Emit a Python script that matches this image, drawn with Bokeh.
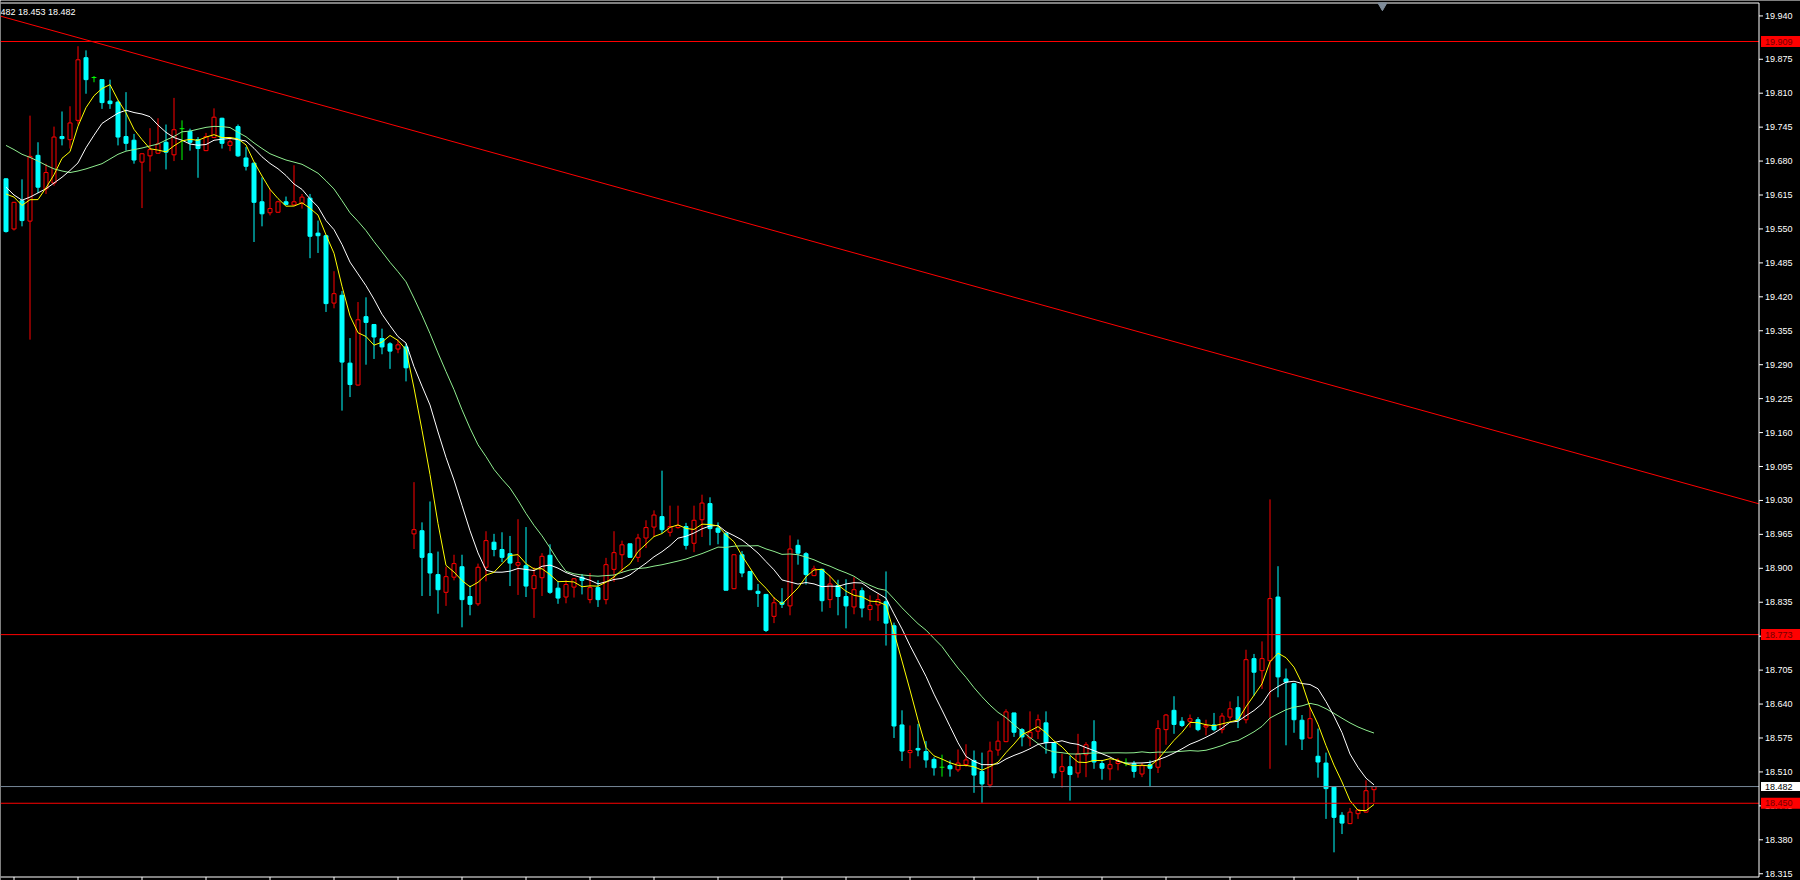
from bokeh.plotting import figure
from bokeh.models import Range1d, ColumnDataSource
from bokeh.core.properties import value
from bokeh.embed import file_html
from bokeh.resources import INLINE

# ---------------- data ----------------
open_ = [19.646, 19.550, 19.604, 19.565, 19.691, 19.627, 19.638, 19.727, 19.721, 19.758,
         19.878, 19.840, 19.836, 19.795, 19.793, 19.727, 19.720, 19.678, 19.690, 19.695,
         19.716, 19.692, 19.742, 19.737, 19.721, 19.700, 19.725, 19.762, 19.710, 19.746,
         19.686, 19.676, 19.602, 19.581, 19.582, 19.602, 19.596, 19.599, 19.609, 19.542,
         19.537, 19.408, 19.423, 19.293, 19.251, 19.382, 19.367, 19.340, 19.330, 19.320,
         19.324, 18.966, 18.972, 18.928, 18.888, 18.854, 18.883, 18.903, 18.846, 18.832,
         18.902, 18.950, 18.936, 18.928, 18.906, 18.905, 18.861, 18.882, 18.925, 18.862,
         18.845, 18.864, 18.883, 18.840, 18.863, 18.840, 18.898, 18.926, 18.947, 18.921,
         18.958, 18.979, 18.999, 18.969, 18.978, 18.980, 18.948, 18.993, 19.024, 18.977,
         18.967, 18.861, 18.926, 18.894, 18.856, 18.850, 18.808, 18.835, 18.828, 18.944,
         18.928, 18.886, 18.898, 18.840, 18.867, 18.846, 18.826, 18.857, 18.821, 18.830,
         18.836, 18.790, 18.600, 18.547, 18.555, 18.549, 18.534, 18.519, 18.522, 18.514,
         18.524, 18.532, 18.511, 18.485, 18.552, 18.568, 18.623, 18.591, 18.575, 18.588,
         18.604, 18.566, 18.511, 18.520, 18.508, 18.543, 18.568, 18.526, 18.516, 18.526,
         18.527, 18.526, 18.506, 18.524, 18.519, 18.591, 18.628, 18.607, 18.607, 18.610,
         18.596, 18.600, 18.591, 18.615, 18.633, 18.610, 18.727, 18.704, 18.723, 18.845,
         18.688, 18.679, 18.609, 18.575, 18.540, 18.527, 18.481, 18.427, 18.411, 18.430,
         18.433, 18.476]
high = [19.647, 19.602, 19.645, 19.767, 19.716, 19.675, 19.746, 19.775, 19.785, 19.900,
        19.892, 19.843, 19.836, 19.836, 19.796, 19.812, 19.732, 19.695, 19.743, 19.762,
        19.750, 19.801, 19.758, 19.742, 19.726, 19.734, 19.781, 19.763, 19.723, 19.750,
        19.707, 19.677, 19.649, 19.627, 19.604, 19.612, 19.672, 19.617, 19.617, 19.566,
        19.539, 19.469, 19.431, 19.341, 19.410, 19.419, 19.368, 19.359, 19.333, 19.338,
        19.330, 19.065, 18.988, 19.028, 18.932, 18.903, 18.926, 18.926, 18.867, 18.909,
        18.971, 18.966, 18.969, 18.962, 18.994, 18.979, 18.902, 18.929, 18.946, 18.875,
        18.877, 18.881, 18.889, 18.891, 18.877, 18.920, 18.971, 18.953, 18.947, 18.966,
        18.992, 19.011, 19.087, 19.020, 19.020, 18.987, 19.020, 19.041, 19.036, 18.988,
        18.969, 18.926, 18.933, 18.894, 18.870, 18.851, 18.845, 18.862, 18.963, 18.955,
        18.931, 18.905, 18.899, 18.886, 18.878, 18.879, 18.883, 18.863, 18.848, 18.851,
        18.894, 18.796, 18.628, 18.599, 18.602, 18.569, 18.538, 18.543, 18.532, 18.553,
        18.563, 18.551, 18.547, 18.568, 18.607, 18.630, 18.623, 18.594, 18.626, 18.620,
        18.626, 18.567, 18.545, 18.541, 18.583, 18.567, 18.609, 18.533, 18.533, 18.536,
        18.536, 18.531, 18.527, 18.532, 18.609, 18.621, 18.655, 18.615, 18.620, 18.615,
        18.610, 18.623, 18.623, 18.645, 18.655, 18.744, 18.736, 18.760, 19.032, 18.904,
        18.708, 18.680, 18.619, 18.634, 18.593, 18.547, 18.481, 18.433, 18.441, 18.439,
        18.494, 18.482]
low = [19.543, 19.547, 19.555, 19.338, 19.619, 19.617, 19.633, 19.710, 19.704, 19.750,
       19.809, 19.831, 19.780, 19.780, 19.710, 19.700, 19.675, 19.590, 19.660, 19.694,
       19.664, 19.680, 19.682, 19.700, 19.648, 19.699, 19.724, 19.704, 19.699, 19.688,
       19.662, 19.525, 19.555, 19.576, 19.581, 19.596, 19.595, 19.589, 19.494, 19.504,
       19.391, 19.398, 19.202, 19.228, 19.250, 19.290, 19.301, 19.310, 19.282, 19.312,
       19.258, 18.937, 18.847, 18.847, 18.813, 18.828, 18.877, 18.787, 18.810, 18.828,
       18.875, 18.923, 18.912, 18.866, 18.849, 18.845, 18.805, 18.847, 18.851, 18.832,
       18.833, 18.844, 18.850, 18.833, 18.826, 18.831, 18.874, 18.891, 18.920, 18.912,
       18.939, 18.960, 18.967, 18.961, 18.976, 18.936, 18.931, 18.960, 18.944, 18.946,
       18.858, 18.860, 18.883, 18.859, 18.826, 18.778, 18.795, 18.824, 18.810, 18.907,
       18.869, 18.885, 18.817, 18.824, 18.810, 18.785, 18.812, 18.806, 18.800, 18.799,
       18.752, 18.575, 18.531, 18.517, 18.540, 18.518, 18.503, 18.501, 18.501, 18.510,
       18.520, 18.470, 18.451, 18.480, 18.541, 18.567, 18.577, 18.559, 18.559, 18.573,
       18.545, 18.498, 18.480, 18.455, 18.499, 18.500, 18.516, 18.495, 18.494, 18.513,
       18.521, 18.499, 18.500, 18.481, 18.508, 18.562, 18.583, 18.596, 18.595, 18.588,
       18.580, 18.588, 18.584, 18.609, 18.594, 18.603, 18.656, 18.669, 18.516, 18.653,
       18.561, 18.585, 18.552, 18.574, 18.499, 18.420, 18.356, 18.391, 18.410, 18.420,
       18.432, 18.452]
close = [19.545, 19.601, 19.566, 19.689, 19.630, 19.658, 19.726, 19.723, 19.753, 19.874,
         19.836, 19.840, 19.792, 19.790, 19.726, 19.714, 19.682, 19.694, 19.702, 19.713,
         19.697, 19.740, 19.742, 19.716, 19.704, 19.727, 19.764, 19.714, 19.717, 19.690,
         19.670, 19.601, 19.579, 19.589, 19.602, 19.597, 19.602, 19.611, 19.536, 19.537,
         19.407, 19.426, 19.295, 19.252, 19.376, 19.371, 19.343, 19.324, 19.316, 19.328,
         19.284, 18.974, 18.921, 18.891, 18.859, 18.884, 18.909, 18.840, 18.831, 18.902,
         18.953, 18.936, 18.921, 18.910, 18.911, 18.866, 18.886, 18.923, 18.854, 18.843,
         18.869, 18.880, 18.877, 18.863, 18.840, 18.907, 18.930, 18.945, 18.921, 18.958,
         18.978, 19.002, 18.974, 18.980, 18.982, 18.944, 18.992, 19.025, 18.976, 18.969,
         18.858, 18.926, 18.891, 18.859, 18.852, 18.781, 18.834, 18.831, 18.937, 18.929,
         18.888, 18.899, 18.838, 18.870, 18.846, 18.828, 18.859, 18.824, 18.829, 18.840,
         18.795, 18.598, 18.550, 18.551, 18.552, 18.533, 18.518, 18.519, 18.516, 18.527,
         18.533, 18.504, 18.487, 18.550, 18.569, 18.625, 18.586, 18.577, 18.586, 18.610,
         18.566, 18.508, 18.520, 18.505, 18.545, 18.562, 18.529, 18.517, 18.524, 18.530,
         18.527, 18.511, 18.522, 18.517, 18.593, 18.619, 18.601, 18.599, 18.612, 18.591,
         18.599, 18.591, 18.617, 18.631, 18.610, 18.725, 18.701, 18.727, 18.842, 18.692,
         18.682, 18.610, 18.573, 18.612, 18.529, 18.478, 18.423, 18.412, 18.433, 18.437,
         18.474, 18.482]

# moving-average values at the left edge (history before the first visible bar)
ma5_lead = [19.617, 19.611, 19.595, 19.606]
ma10_lead = [19.630, 19.615, 19.605, 19.611, 19.619, 19.627, 19.638, 19.649, 19.662]
ma20_lead = [19.710, 19.702, 19.693, 19.687, 19.680, 19.672, 19.665, 19.661, 19.658, 19.661,
             19.665, 19.670, 19.675, 19.684, 19.693, 19.699, 19.702, 19.705, 19.709]

# price-scale ticks (the top label sits a little higher in the terminal)
y_tick_labels = ["18.315", "18.380", "18.445", "18.510", "18.575", "18.640", "18.705", "18.770",
                 "18.835", "18.900", "18.965", "19.030", "19.095", "19.160", "19.225", "19.290",
                 "19.355", "19.420", "19.485", "19.550", "19.615", "19.680", "19.745", "19.810",
                 "19.875", "19.940"]
y_tick_pos = [18.315, 18.380, 18.445, 18.510, 18.575, 18.640, 18.705, 18.770,
              18.835, 18.900, 18.965, 19.030, 19.095, 19.160, 19.225, 19.290,
              19.355, 19.420, 19.485, 19.550, 19.615, 19.680, 19.745, 19.810,
              19.875, 19.958]

level_lines = [19.909, 18.773, 18.450]
bid_price = 18.482
trend_x = [-0.66, 219.1]
trend_y = [19.9575, 19.0236]
info_text = "482 18.453 18.482"
shift_marker_x = 172.05
time_tick_every = 8
time_tick_first = 1

# ---------------- derived series ----------------
n = len(close)
xs = list(range(n))


def sma(vals, period, lead):
    out = []
    for i in range(len(vals)):
        if i < period - 1:
            out.append(lead[i])
        else:
            out.append(sum(vals[i - period + 1:i + 1]) / period)
    return out


ma5 = sma(close, 5, ma5_lead)
ma10 = sma(close, 10, ma10_lead)
ma20 = sma(close, 20, ma20_lead)

CYAN = "#00ffff"
RED = "#ff0000"
GREEN = "#00ff00"
FONT = value("Liberation Sans")

wick_col = [RED if c > o else (CYAN if c < o else GREEN) for o, c in zip(open_, close)]
src_wick = ColumnDataSource(dict(x=xs, lo=low, hi=high, col=wick_col))
bear = [i for i in xs if close[i] < open_[i]]
bull = [i for i in xs if close[i] > open_[i]]
doji = [i for i in xs if close[i] == open_[i]]
src_bear = ColumnDataSource(dict(x=bear, top=[open_[i] for i in bear], bot=[close[i] for i in bear]))
src_bull = ColumnDataSource(dict(x=bull, top=[close[i] for i in bull], bot=[open_[i] for i in bull]))
src_doji = ColumnDataSource(dict(x0=[i - 0.3 for i in doji], x1=[i + 0.3 for i in doji],
                                 y=[open_[i] for i in doji]))

# ---------------- layout / scales ----------------
W, H = 1800, 880
BAR_PX = 8.0          # horizontal pixels per bar
PRICE_PX = 522.1      # vertical pixels per price unit
X0 = -5.5 / BAR_PX    # bar 0 centred 5.5px from the left edge (crisp 1px wicks)
Y_TOP = 19.810 + 92.7 / PRICE_PX


def px2x(px):
    return X0 + px / BAR_PX


def px2y(py):
    return Y_TOP - py / PRICE_PX


AXIS_PX = 1758.5      # price scale line
TOP_PX = 2.5
BOTTOM_PX = 876.5

p = figure(width=W, height=H,
           x_range=Range1d(X0, px2x(W)), y_range=Range1d(px2y(H), Y_TOP),
           output_backend="svg", toolbar_location=None,
           background_fill_color="#000000", border_fill_color="#000000",
           min_border=0, outline_line_color=None,
           x_axis_location=None, y_axis_location=None)
p.grid.grid_line_color = None

xa = px2x(AXIS_PX)
yt = px2y(TOP_PX)
yb = px2y(BOTTOM_PX)

# trend line
p.line(trend_x, trend_y, line_color=RED, line_width=1)

# candles
p.segment(x0="x", y0="lo", x1="x", y1="hi", line_color="col", line_width=1, source=src_wick)
p.vbar(x="x", width=0.5, top="top", bottom="bot", fill_color=CYAN, line_color=CYAN,
       line_width=1, source=src_bear)
p.vbar(x="x", width=0.5, top="top", bottom="bot", fill_color="#000000", line_color=RED,
       line_width=1, source=src_bull)
p.segment(x0="x0", y0="y", x1="x1", y1="y", line_color=GREEN, line_width=1, source=src_doji)

# moving averages
p.line(xs, ma20, line_color="#90ee90", line_width=1)
p.line(xs, ma10, line_color="#ffffff", line_width=1)
p.line(xs, ma5, line_color="#ffff00", line_width=1)

# horizontal levels (stop at the price scale)
p.segment(x0=[X0] * len(level_lines), y0=level_lines, x1=[xa] * len(level_lines), y1=level_lines,
          line_color=RED, line_width=1)
p.segment(x0=[X0], y0=[bid_price], x1=[xa], y1=[bid_price], line_color="#778899", line_width=1)

# chart frame: top border, bottom time scale, right price scale
p.segment(x0=[X0, X0, xa], y0=[yt, yb, yt], x1=[xa, xa, xa], y1=[yt, yb, yb],
          line_color="#ffffff", line_width=1)
tt = list(range(time_tick_first, n, time_tick_every))
p.segment(x0=tt, y0=[yb] * len(tt), x1=tt, y1=[px2y(H)] * len(tt), line_color="#ffffff", line_width=1)

# price scale ticks and labels
p.segment(x0=[xa] * len(y_tick_pos), y0=y_tick_pos, x1=[px2x(AXIS_PX + 4)] * len(y_tick_pos),
          y1=y_tick_pos, line_color="#ffffff", line_width=1)
p.text(x=[px2x(AXIS_PX + 6)] * len(y_tick_pos), y=y_tick_pos, text=y_tick_labels,
       text_color="#ffffff", text_font=FONT, text_font_size="9px",
       text_baseline="middle", text_align="left")

# price boxes on the scale
box_w = (W - AXIS_PX - 2) / BAR_PX
box_cx = px2x(AXIS_PX + 2) + box_w / 2
p.rect(x=[box_cx] * len(level_lines), y=level_lines, width=box_w, height=11 / PRICE_PX,
       fill_color=RED, line_color=None)
p.text(x=[px2x(AXIS_PX + 6)] * len(level_lines), y=level_lines,
       text=[f"{v:.3f}" for v in level_lines], text_color="#700000", text_font=FONT,
       text_font_size="9px", text_baseline="middle", text_align="left")
p.rect(x=[box_cx], y=[bid_price], width=box_w, height=9 / PRICE_PX,
       fill_color="#ffffff", line_color=None)
p.text(x=[px2x(AXIS_PX + 6)], y=[bid_price], text=[f"{bid_price:.3f}"], text_color="#000000",
       text_font=FONT, text_font_size="9px", text_baseline="middle", text_align="left")

# OHLC info text and chart-shift marker
p.text(x=[X0], y=[px2y(11)], text=[info_text], text_color="#ffffff", text_font=FONT,
       text_font_size="9px", text_baseline="middle", text_align="left")
p.scatter([shift_marker_x], [px2y(5)], marker="inverted_triangle", size=9,
          fill_color="#7f8c9a", line_color="#7f8c9a")

open("out.html", "w").write(file_html(p, INLINE))
